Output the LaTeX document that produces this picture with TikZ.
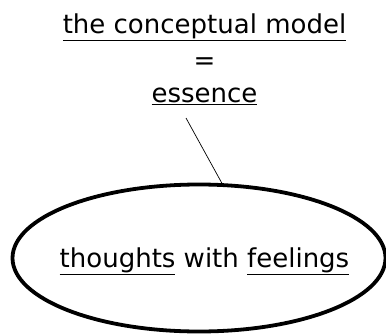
\documentclass[tikz,border=0pt]{standalone}
\usepackage{fontspec}
\setmainfont{DejaVu Sans}
\usetikzlibrary{shapes.geometric}
\tikzset{
  bigtext/.style={font=\fontsize{26}{30}\selectfont, inner sep=0pt},
  oval/.style={ellipse, draw, line width=3.8pt, minimum width=373pt, minimum height=147pt, inner sep=0pt}
}
\begin{document}
\begin{tikzpicture}[x=1pt, y=1pt, every node/.style={bigtext}]
\useasboundingbox (0,0) rectangle (386,-335);
% oben: das Modell
\node[anchor=base] (model) at (204.5,-33) {\underline{the conceptual model}};
\node[anchor=base] (equals) at (204.5,-69) {=};
\node[anchor=base] (essence) at (204.5,-102) {\underline{essence}};
% unten: die Ellipse mit Text
\node[oval] (oval) at (199,-258) {};
\node[anchor=base] (thoughts) at (204.5,-267) {\underline{thoughts} with \underline{feelings}};
\coordinate (linestart) at (186,-118);
\draw[line width=0.7pt] (linestart) -- (oval.73);
\end{tikzpicture}
\end{document}
